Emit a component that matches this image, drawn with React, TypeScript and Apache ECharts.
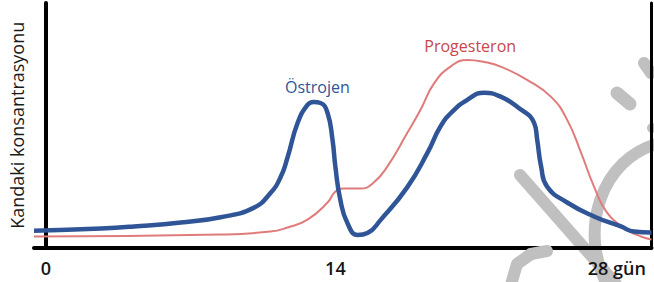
import React, { useEffect, useRef } from "react";
import * as echarts from "echarts";

// Day of cycle (x) and relative blood concentration (y)
const ESTROGEN_DAYS = [-0.58, 2.66, 4.25, 6.52, 8.45, 10.04, 10.86, 11.35, 11.69, 12.17, 12.65, 12.94, 13.28, 13.62, 13.86, 14.0, 14.24, 14.58, 15.07, 15.55, 16.18, 17.48, 18.45, 19.07, 19.6, 20.38, 21.2, 22.02, 22.79, 23.61, 23.76, 23.95, 24.24, 25.21, 26.51, 27.81, 28.44, 29.29];
const ESTROGEN_VALUES = [6.9, 7.8, 8.6, 10.2, 12.4, 16.2, 22.3, 28.8, 37.0, 50.9, 58.3, 59.5, 59.1, 55.0, 44.0, 32.9, 19.4, 10.0, 5.1, 5.9, 11.2, 24.7, 38.7, 49.3, 55.1, 60.4, 63.3, 61.6, 57.6, 51.0, 44.1, 33.1, 24.9, 18.4, 12.7, 8.6, 6.5, 6.1];

const PROGESTERONE_DAYS = [-0.58, 8.45, 10.86, 11.69, 12.65, 13.62, 14.0, 14.39, 15.21, 15.84, 16.51, 17.48, 18.11, 18.78, 19.6, 20.38, 21.2, 22.02, 23.27, 24.43, 25.21, 25.88, 26.51, 27.14, 28.1, 28.78, 29.29];
const PROGESTERONE_VALUES = [4.5, 5.3, 6.5, 8.2, 11.4, 18.4, 22.9, 24.1, 24.1, 26.5, 33.1, 46.9, 56.2, 67.2, 74.2, 76.7, 75.9, 73.9, 68.6, 61.6, 52.2, 38.8, 24.9, 14.3, 7.3, 4.5, 3.3];

const X_TICKS = [0, 14, 28];
const X_TICK_LABELS = ["0", "14", "28 gün"];
const Y_TITLE = "Kandaki konsantrasyonu";
const SERIES_NAMES = ["Östrojen", "Progesteron"];
const LABEL_POINTS: [number, number][] = [
  [13.13, 65.6],
  [20.52, 82.4],
];

const X_MIN = -0.58;
const X_MAX = 29.29;

const BLUE = "#2F5597";
const RED_LINE = "#E07B7B";
const RED_TEXT = "#C9474B";
const WM = "#c0c0c0";
const FONT = "'Open Sans', 'Noto Sans', sans-serif";

export default function App() {
  const ref = useRef<HTMLDivElement>(null);
  useEffect(() => {
    if (!ref.current) return;
    const chart = echarts.init(ref.current, null, { renderer: "svg" });
    const est = ESTROGEN_DAYS.map((d, i) => [d, ESTROGEN_VALUES[i]]);
    const pro = PROGESTERONE_DAYS.map((d, i) => [d, PROGESTERONE_VALUES[i]]);
    chart.setOption({
      animation: false,
      backgroundColor: "#ffffff",
      grid: { left: 33, right: 2.5, top: 3, bottom: 34.5 },
      xAxis: {
        type: "value",
        min: X_MIN,
        max: X_MAX,
        axisLine: { show: true, onZero: false, lineStyle: { color: "#000", width: 4 } },
        axisTick: { show: false },
        splitLine: { show: false },
        axisLabel: {
          customValues: X_TICKS,
          margin: 11,
          fontFamily: FONT,
          fontSize: 18,
          fontWeight: 600,
          color: "#151515",
          formatter: (v: number) => {
            const i = X_TICKS.indexOf(v);
            if (i < 0) return "";
            if (i === X_TICKS.length - 1) return "{r|" + X_TICK_LABELS[i] + "}";
            return X_TICK_LABELS[i];
          },
          rich: {
            r: {
              fontFamily: FONT,
              fontSize: 18,
              fontWeight: 600,
              color: "#151515",
              padding: [0, 16, 0, 0],
            },
          },
        },
      },
      yAxis: [
        {
          type: "value",
          min: 0,
          max: 100,
          name: Y_TITLE,
          nameLocation: "middle",
          nameGap: 8,
          nameTextStyle: { fontFamily: FONT, fontSize: 18, color: "#1a1a1a" },
          axisLine: { show: true, lineStyle: { color: "#000", width: 4 } },
          axisTick: { show: false },
          axisLabel: { show: false },
          splitLine: { show: false },
        },
        {
          type: "value",
          min: 0,
          max: 100,
          position: "right",
          axisLine: { show: true, lineStyle: { color: "#000", width: 3 } },
          axisTick: { show: false },
          axisLabel: { show: false },
          splitLine: { show: false },
        },
      ],
      graphic: {
        elements: [
          { type: "line", id: "wm1", z: 0, shape: { x1: 520, y1: 175, x2: 616, y2: 284 }, style: { stroke: WM, lineWidth: 12, lineCap: "round" } },
          { type: "bezierCurve", id: "wm2", z: 0, shape: { x1: 660, y1: 143, cpx1: 600, cpy1: 158, cpx2: 578, cpy2: 232, x2: 608, y2: 286 }, style: { stroke: WM, lineWidth: 12, fill: "none" } },
          { type: "line", id: "wm4", z: 0, shape: { x1: 617, y1: 93, x2: 630, y2: 104 }, style: { stroke: WM, lineWidth: 13, lineCap: "round" } },
          { type: "line", id: "wm5", z: 0, shape: { x1: 644, y1: 63, x2: 651, y2: 73 }, style: { stroke: WM, lineWidth: 12, lineCap: "round" } },
          { type: "circle", id: "wm6", z: 0, shape: { cx: 652, cy: 128, r: 5 }, style: { fill: WM } },
          {
            type: "group",
            id: "wmBottom",
            x: 505,
            y: 248,
            z: 5,
            children: [
              { type: "line", z: 5, shape: { x1: 5, y1: 40, x2: 12, y2: 16 }, style: { stroke: WM, lineWidth: 12 } },
              { type: "line", z: 5, shape: { x1: 12, y1: 16, x2: 26, y2: 6 }, style: { stroke: WM, lineWidth: 12, lineCap: "round" } },
              { type: "line", z: 5, shape: { x1: 26, y1: 6, x2: 42, y2: 3 }, style: { stroke: WM, lineWidth: 12, lineCap: "round" } },
            ],
          },
        ],
      },
      series: [
        {
          name: SERIES_NAMES[0],
          type: "line",
          data: est,
          smooth: 0.5,
          showSymbol: false,
          symbol: "none",
          z: 4,
          lineStyle: { color: BLUE, width: 4.5 },
          markPoint: {
            symbol: "circle",
            symbolSize: 1,
            itemStyle: { color: "rgba(0,0,0,0)" },
            label: { show: true, position: "inside", formatter: SERIES_NAMES[0], fontFamily: FONT, fontSize: 16, color: BLUE },
            data: [{ coord: LABEL_POINTS[0] }],
          },
        },
        {
          name: SERIES_NAMES[1],
          type: "line",
          data: pro,
          smooth: 0.5,
          showSymbol: false,
          symbol: "none",
          z: 3,
          lineStyle: { color: RED_LINE, width: 2 },
          markPoint: {
            symbol: "circle",
            symbolSize: 1,
            itemStyle: { color: "rgba(0,0,0,0)" },
            label: { show: true, position: "inside", formatter: SERIES_NAMES[1], fontFamily: FONT, fontSize: 16, color: RED_TEXT },
            data: [{ coord: LABEL_POINTS[1] }],
          },
        },
      ],
    });
    return () => chart.dispose();
  }, []);
  return <div ref={ref} style={{ position: "fixed", left: 0, top: 0, width: 654, height: 282 }} />;
}
